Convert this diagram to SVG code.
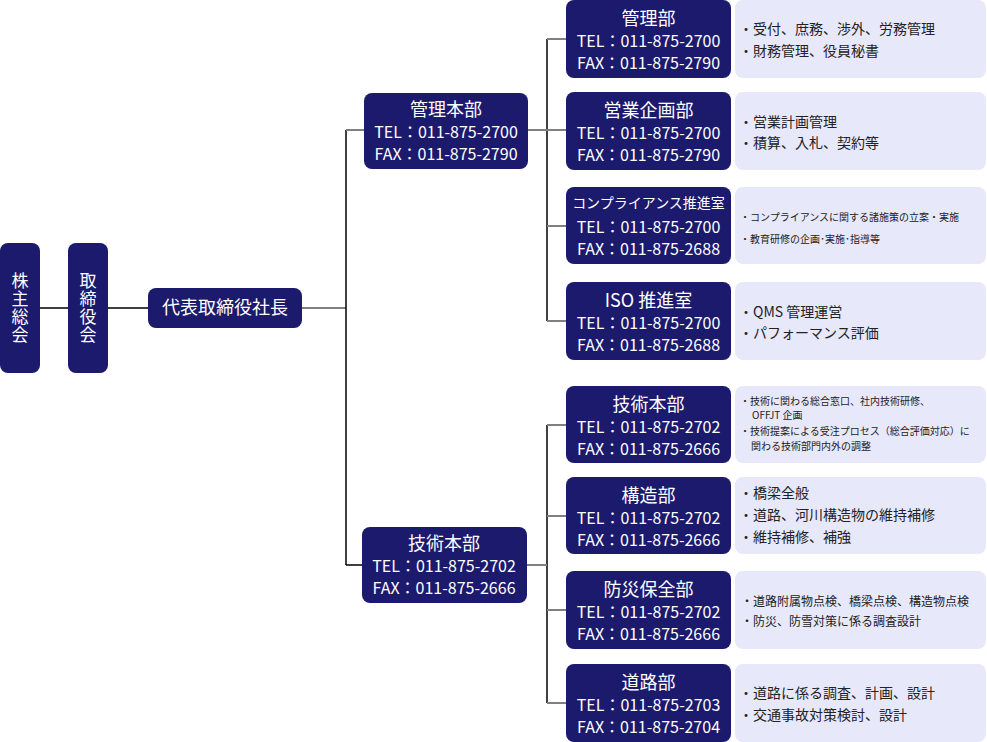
<svg xmlns="http://www.w3.org/2000/svg" width="987" height="742" viewBox="0 0 987 742">
<style>
.bx{fill:#1c1a6d}
.ds{fill:#e8e8fb}
text{font-family:"Noto Sans CJK JP","Noto Sans",sans-serif}
.w{fill:#ffffff;text-anchor:middle}
.t{font-size:18px}
.v{font-size:17px;writing-mode:vertical-rl;letter-spacing:1px}
.n{font-size:16px}
.c{font-size:14px}
.d{fill:#222222;font-size:14px}
.s{fill:#222222;font-size:10px}
.m{fill:#222222;font-size:12px}
.k{stroke:#000;stroke-width:1.5;fill:none}
.g{stroke:#808080;stroke-width:2;fill:none}
</style>
<g id="connectors">
<line class="k" x1="40" y1="308" x2="68" y2="308"/>
<line class="k" x1="108" y1="308" x2="148" y2="308"/>
<line class="g" x1="302" y1="308" x2="346" y2="308"/>
<line class="k" x1="346" y1="130" x2="346" y2="565"/>
<line class="g" x1="346" y1="130" x2="364" y2="130"/>
<line class="k" x1="346" y1="565" x2="362" y2="565"/>
<line class="k" x1="547" y1="39" x2="547" y2="321"/>
<line class="k" x1="547" y1="425" x2="547" y2="703"/>
<line class="g" x1="528" y1="130" x2="566" y2="130"/>
<line class="g" x1="527" y1="565" x2="547" y2="565"/>
<line class="g" x1="547" y1="39" x2="566" y2="39"/>
<line class="g" x1="547" y1="226" x2="566" y2="226"/>
<line class="g" x1="547" y1="321" x2="566" y2="321"/>
<line class="g" x1="547" y1="425" x2="566" y2="425"/>
<line class="g" x1="547" y1="516" x2="566" y2="516"/>
<line class="g" x1="547" y1="610" x2="566" y2="610"/>
<line class="g" x1="547" y1="703" x2="566" y2="703"/>
</g>
<g id="kabunushi">
<rect class="bx" x="0" y="243" width="40" height="130" rx="8"/>
<text class="w v" x="20" y="308">株主総会</text>
</g>
<g id="torishimariyakukai">
<rect class="bx" x="68" y="243" width="40" height="130" rx="8"/>
<text class="w v" x="88" y="308">取締役会</text>
</g>
<g id="president">
<rect class="bx" x="148" y="288" width="154" height="40" rx="8"/>
<text class="w t" x="225" y="314">代表取締役社長</text>
</g>
<g id="kanri-honbu">
<rect class="bx" x="364" y="93" width="164" height="76" rx="8"/>
<text class="w n"><tspan class="t" x="446" y="116">管理本部</tspan><tspan x="446" y="138">TEL：011-875-2700</tspan><tspan x="446" y="160">FAX：011-875-2790</tspan></text>
</g>
<g id="gijutsu-honbu-main">
<rect class="bx" x="362" y="527" width="165" height="76" rx="8"/>
<text class="w n"><tspan class="t" x="444" y="550">技術本部</tspan><tspan x="444" y="572">TEL：011-875-2702</tspan><tspan x="444" y="594">FAX：011-875-2666</tspan></text>
</g>
<g id="kanri-bu">
<rect class="bx" x="566" y="0" width="165" height="78" rx="8"/>
<text class="w n"><tspan class="t" x="648.5" y="25">管理部</tspan><tspan x="648.5" y="47">TEL：011-875-2700</tspan><tspan x="648.5" y="69">FAX：011-875-2790</tspan></text>
<rect class="ds" x="735" y="0" width="251" height="78" rx="8"/>
<text class="d"><tspan x="739" y="34">・受付、庶務、渉外、労務管理</tspan><tspan x="739" y="56">・財務管理、役員秘書</tspan></text>
</g>
<g id="eigyo-kikaku-bu">
<rect class="bx" x="566" y="92" width="165" height="78" rx="8"/>
<text class="w n"><tspan class="t" x="648.5" y="117">営業企画部</tspan><tspan x="648.5" y="139">TEL：011-875-2700</tspan><tspan x="648.5" y="161">FAX：011-875-2790</tspan></text>
<rect class="ds" x="735" y="92" width="251" height="78" rx="8"/>
<text class="d"><tspan x="739" y="127">・営業計画管理</tspan><tspan x="739" y="148">・積算、入札、契約等</tspan></text>
</g>
<g id="compliance">
<rect class="bx" x="566" y="187" width="165" height="77" rx="8"/>
<text class="w n"><tspan class="c" x="648.5" y="208">コンプライアンス推進室</tspan><tspan x="648.5" y="233">TEL：011-875-2700</tspan><tspan x="648.5" y="255">FAX：011-875-2688</tspan></text>
<rect class="ds" x="735" y="187" width="251" height="77" rx="8"/>
<text class="s"><tspan x="740" y="221">・コンプライアンスに関する諸施策の立案・実施</tspan><tspan x="740" y="243">・教育研修の企画･実施･指導等</tspan></text>
</g>
<g id="iso">
<rect class="bx" x="566" y="282" width="165" height="78" rx="8"/>
<text class="w n"><tspan class="t" x="648.5" y="307">ISO 推進室</tspan><tspan x="648.5" y="329">TEL：011-875-2700</tspan><tspan x="648.5" y="351">FAX：011-875-2688</tspan></text>
<rect class="ds" x="735" y="282" width="251" height="78" rx="8"/>
<text class="d"><tspan x="739" y="317">・QMS 管理運営</tspan><tspan x="739" y="338">・パフォーマンス評価</tspan></text>
</g>
<g id="gijutsu-honbu">
<rect class="bx" x="566" y="386" width="165" height="77" rx="8"/>
<text class="w n"><tspan class="t" x="648.5" y="411">技術本部</tspan><tspan x="648.5" y="433">TEL：011-875-2702</tspan><tspan x="648.5" y="455">FAX：011-875-2666</tspan></text>
<rect class="ds" x="735" y="386" width="251" height="77" rx="8"/>
<text class="s"><tspan x="740" y="405">・技術に関わる総合窓口、社内技術研修、</tspan><tspan x="752" y="419">OFFJT 企画</tspan><tspan x="740" y="435">・技術提案による受注プロセス（総合評価対応）に</tspan><tspan x="751" y="450">関わる技術部門内外の調整</tspan></text>
</g>
<g id="kozo-bu">
<rect class="bx" x="566" y="477" width="165" height="77" rx="8"/>
<text class="w n"><tspan class="t" x="648.5" y="502">構造部</tspan><tspan x="648.5" y="524">TEL：011-875-2702</tspan><tspan x="648.5" y="546">FAX：011-875-2666</tspan></text>
<rect class="ds" x="735" y="477" width="251" height="77" rx="8"/>
<text class="d"><tspan x="739" y="498">・橋梁全般</tspan><tspan x="739" y="520">・道路、河川構造物の維持補修</tspan><tspan x="739" y="542">・維持補修、補強</tspan></text>
</g>
<g id="bosai-hozen-bu">
<rect class="bx" x="566" y="571" width="165" height="78" rx="8"/>
<text class="w n"><tspan class="t" x="648.5" y="596">防災保全部</tspan><tspan x="648.5" y="618">TEL：011-875-2702</tspan><tspan x="648.5" y="640">FAX：011-875-2666</tspan></text>
<rect class="ds" x="735" y="571" width="251" height="78" rx="8"/>
<text class="m"><tspan x="741" y="606">・道路附属物点検、橋梁点検、構造物点検</tspan><tspan x="741" y="626">・防災、防雪対策に係る調査設計</tspan></text>
</g>
<g id="doro-bu">
<rect class="bx" x="566" y="664" width="165" height="78" rx="8"/>
<text class="w n"><tspan class="t" x="648.5" y="689">道路部</tspan><tspan x="648.5" y="711">TEL：011-875-2703</tspan><tspan x="648.5" y="733">FAX：011-875-2704</tspan></text>
<rect class="ds" x="735" y="664" width="251" height="78" rx="8"/>
<text class="d"><tspan x="739" y="698">・道路に係る調査、計画、設計</tspan><tspan x="739" y="720">・交通事故対策検討、設計</tspan></text>
</g>
</svg>
